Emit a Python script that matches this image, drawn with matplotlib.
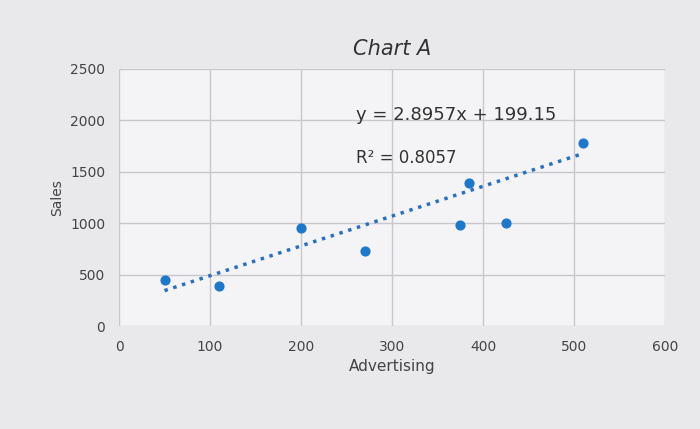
import matplotlib.pyplot as plt
import numpy as np

advertising = [50, 110, 200, 270, 375, 385, 425, 510]
sales = [450, 390, 950, 730, 980, 1390, 1000, 1780]
slope, intercept = 2.8957, 199.15
equation = "y = 2.8957x + 199.15"
r2_text = "R² = 0.8057"

fig = plt.figure(figsize=(7, 4.29), dpi=100)
fig.patch.set_facecolor('#e9e9ec')
ax = fig.add_axes([0.17, 0.24, 0.78, 0.6])
ax.set_facecolor('#f4f4f6')
ax.scatter(advertising, sales, color='#1f77c8', s=40, zorder=3)
xs = np.array([min(advertising), max(advertising)])
ax.plot(xs, slope * xs + intercept, linestyle=':', color='#2a6fc0', linewidth=2.5, zorder=2)
ax.set_xlim(0, 600)
ax.set_ylim(0, 2500)
ax.set_xticks(range(0, 601, 100))
ax.set_yticks(range(0, 2501, 500))
ax.grid(True, color='#c8c8cc', linewidth=1)
for s in ax.spines.values():
    s.set_visible(False)
ax.tick_params(length=0, labelsize=10, colors='#444444', pad=10)
ax.set_xlabel('Advertising', fontsize=11, color='#444444')
ax.set_ylabel('Sales', fontsize=10, color='#444444')
ax.set_title('Chart A', fontsize=15, style='italic', color='#333333', pad=10)
ax.text(260, 2000, equation, fontsize=13, color='#333333')
ax.text(260, 1580, r2_text, fontsize=12, color='#333333')
fig.savefig('out.png', dpi=100, facecolor=fig.get_facecolor())
